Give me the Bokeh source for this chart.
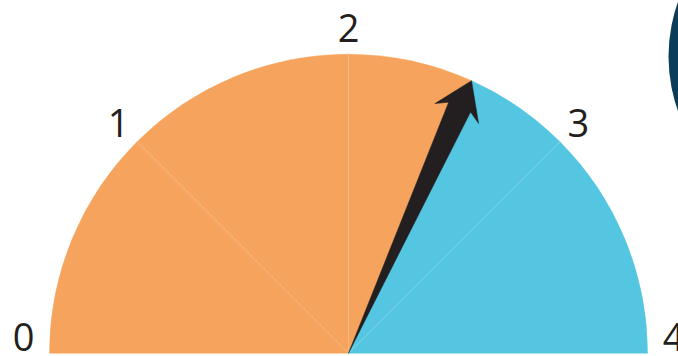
import numpy as np
from bokeh.plotting import figure
from bokeh.models import ColumnDataSource
from bokeh.core.properties import value as pvalue
from bokeh.embed import file_html
from bokeh.resources import INLINE

# ---- data ----
tick_values = [0, 1, 2, 3, 4]
tick_labels = ["0", "1", "2", "3", "4"]
gauge_min = 0
gauge_max = 4
needle_value = 2.54

# ---- style ----
ORANGE = "#F6A45D"
BLUE = "#55C6E1"
NAVY = "#0B3D58"
DARK = "#231F20"
R = 299
LABEL_R = 325

def ang(v):
    return np.pi * (1 - (np.asarray(v, dtype=float) - gauge_min) / (gauge_max - gauge_min))

W, H = 678, 356
p = figure(width=W, height=H, x_range=(-348, 330), y_range=(-3.3, 352.7),
           output_backend="svg", toolbar_location=None, min_border=0,
           outline_line_color=None, background_fill_color="white")
p.axis.visible = False
p.grid.visible = False

# decorative navy disc at top right
p.circle(x=[482], y=[296.7], radius=162, fill_color=NAVY, line_color=None)

# sectors: split each tick interval at the needle value
starts, ends, colors = [], [], []
for a, b in zip(tick_values[:-1], tick_values[1:]):
    if b <= needle_value:
        segs = [(a, b, ORANGE)]
    elif a >= needle_value:
        segs = [(a, b, BLUE)]
    else:
        segs = [(a, needle_value, ORANGE), (needle_value, b, BLUE)]
    for s, e, c in segs:
        starts.append(float(ang(e)))
        ends.append(float(ang(s)))
        colors.append(c)
src = ColumnDataSource(dict(x=[0] * len(starts), y=[0] * len(starts),
                            sa=starts, ea=ends, c=colors))
p.wedge(x="x", y="y", radius=R, start_angle="sa", end_angle="ea",
        fill_color="c", line_color="c", line_width=0.5, source=src)

# faint seams at the inner ticks
inner = np.array(tick_values[1:-1])
th = ang(inner)
p.segment(x0=np.zeros(len(th)), y0=np.zeros(len(th)), x1=R * np.cos(th), y1=R * np.sin(th),
          line_color="white", line_alpha=0.2, line_width=1)

# needle
t = float(ang(needle_value))
u = np.array([np.cos(t), np.sin(t)])
n = np.array([-np.sin(t), np.cos(t)])
local = [(0, 0), (270, -12), (263, -24), (R, 0), (263, 24), (270, 12)]
pts = [a * u + b * n for a, b in local]
p.patch(x=[q[0] for q in pts], y=[q[1] for q in pts], fill_color=DARK, line_color=DARK, line_width=0.5)

# labels
lth = ang(tick_values)
lx = LABEL_R * np.cos(lth)
ly = np.maximum(LABEL_R * np.sin(lth), 16)
p.text(x=lx, y=ly, text=tick_labels, text_align="center", text_baseline="middle",
       text_font=pvalue("Open Sans"), text_font_size="38px", text_color=DARK)

open("out.html", "w").write(file_html(p, INLINE))
